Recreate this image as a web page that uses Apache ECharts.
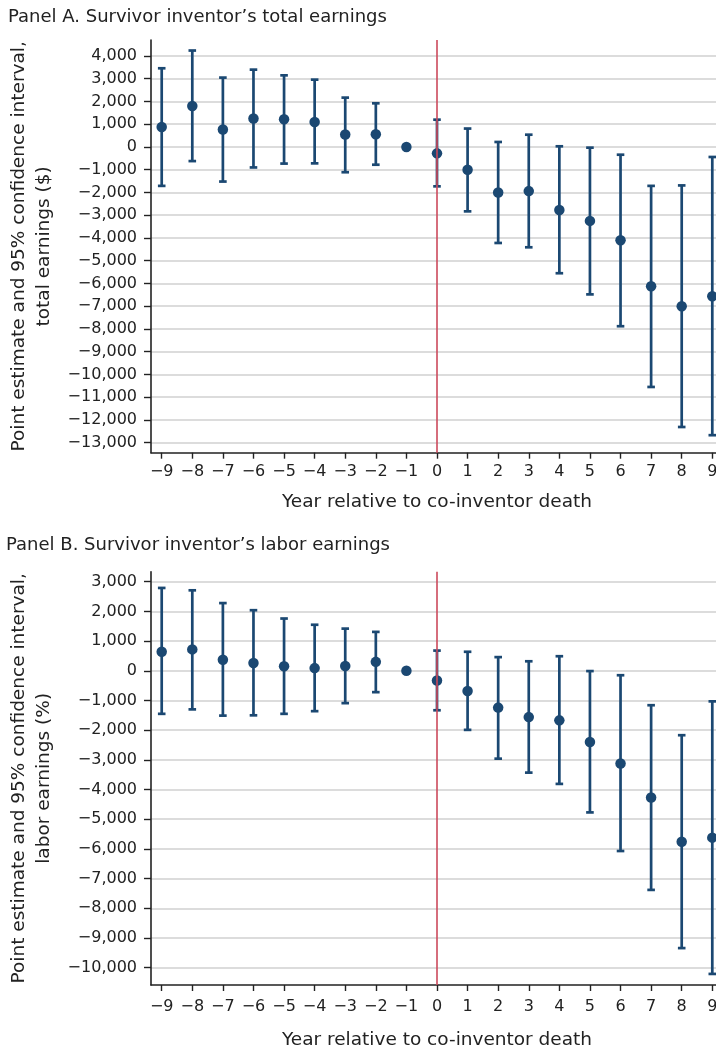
<!DOCTYPE html>
<html>
<head>
<meta charset="utf-8">
<script src="https://cdn.jsdelivr.net/npm/echarts@6/dist/echarts.min.js"></script>
<style>
  html, body { margin: 0; padding: 0; background: #fff; }
  #chart { width: 716px; height: 1050px; }
</style>
</head>
<body>
<div id="chart"></div>
<script>
// ---- data ----
const years = [-9, -8, -7, -6, -5, -4, -3, -2, -1, 0, 1, 2, 3, 4, 5, 6, 7, 8, 9];

// Panel A: total earnings ($)
const estA  = [880, 1800, 770, 1250, 1220, 1100, 550, 560, 0, -280, -1000, -2000, -1940, -2770, -3250, -4100, -6120, -7000, -6560];
const lowA  = [-1710, -620, -1520, -900, -730, -720, -1110, -780, null, -1730, -2830, -4220, -4410, -5550, -6480, -7880, -10550, -12310, -12670];
const highA = [3460, 4240, 3050, 3400, 3150, 2960, 2170, 1920, null, 1200, 810, 220, 540, 30, -30, -340, -1710, -1690, -440];

// Panel B: labor earnings
const estB  = [640, 720, 370, 260, 150, 90, 160, 300, 0, -330, -680, -1240, -1560, -1670, -2400, -3120, -4270, -5760, -5620];
const lowB  = [-1450, -1300, -1510, -1500, -1450, -1360, -1090, -720, null, -1330, -1990, -2960, -3430, -3810, -4770, -6070, -7380, -9340, -10210];
const highB = [2790, 2710, 2280, 2040, 1760, 1550, 1420, 1310, null, 680, 640, 460, 320, 490, -10, -150, -1160, -2170, -1030];

const xTicks  = [-9, -8, -7, -6, -5, -4, -3, -2, -1, 0, 1, 2, 3, 4, 5, 6, 7, 8, 9];
const yTicksA = [-13000, -12000, -11000, -10000, -9000, -8000, -7000, -6000, -5000, -4000, -3000, -2000, -1000, 0, 1000, 2000, 3000, 4000];
const yTicksB = [-10000, -9000, -8000, -7000, -6000, -5000, -4000, -3000, -2000, -1000, 0, 1000, 2000, 3000];

const titleA = 'Panel A. Survivor inventor\u2019s total earnings';
const titleB = 'Panel B. Survivor inventor\u2019s labor earnings';
const yNameA = 'Point estimate and 95% confidence interval,\ntotal earnings ($)';
const yNameB = 'Point estimate and 95% confidence interval,\nlabor earnings (%)';
const xName  = 'Year relative to co-inventor death';

// ---- styling ----
const NAVY = '#1b4872';
const RED = '#cc4a5c';
const TXT = '#222222';
const FONT = 'DejaVu Sans';

function fmtNum(v) {
  const s = Math.abs(v).toLocaleString('en-US');
  return (v < 0 ? '\u2212' : '') + s;
}

function errData(lo, hi) {
  const out = [];
  years.forEach((y, i) => {
    if (lo[i] != null && hi[i] != null) out.push([y, lo[i], hi[i]]);
  });
  return out;
}
function ptData(est) {
  return years.map((y, i) => [y, est[i]]);
}

function renderErr(params, api) {
  const x = api.value(0), lo = api.value(1), hi = api.value(2);
  const a = api.coord([x, lo]);
  const b = api.coord([x, hi]);
  const cw = 3.8;
  const st = { stroke: NAVY, lineWidth: 2.7, fill: null };
  return {
    type: 'group',
    children: [
      { type: 'line', shape: { x1: a[0], y1: a[1], x2: b[0], y2: b[1] }, style: st },
      { type: 'line', shape: { x1: a[0] - cw, y1: a[1], x2: a[0] + cw, y2: a[1] }, style: st },
      { type: 'line', shape: { x1: b[0] - cw, y1: b[1], x2: b[0] + cw, y2: b[1] }, style: st }
    ]
  };
}

function xAxisCfg(gridIndex, labelMargin, nameGap) {
  return {
    type: 'value', gridIndex,
    min: -9.35, max: 9.35,
    name: xName, nameLocation: 'middle', nameGap,
    nameTextStyle: { fontFamily: FONT, fontSize: 18.5, color: TXT },
    axisLine: { show: true, onZero: false, lineStyle: { color: TXT, width: 1.6 } },
    axisTick: { show: true, length: 6, customValues: xTicks, lineStyle: { color: TXT, width: 1.4 } },
    axisLabel: { customValues: xTicks, margin: labelMargin, fontFamily: FONT, fontSize: 16, color: TXT, formatter: fmtNum },
    splitLine: { show: false }
  };
}
function yAxisCfg(gridIndex, min, max, ticks, name) {
  return {
    type: 'value', gridIndex, min, max,
    name, nameLocation: 'middle', nameRotate: 90, nameGap: 91,
    nameTextStyle: { fontFamily: FONT, fontSize: 18.5, color: TXT, lineHeight: 25, align: 'center' },
    axisLine: { show: true, onZero: false, lineStyle: { color: TXT, width: 1.6 } },
    axisTick: { show: true, length: 7, customValues: ticks, lineStyle: { color: TXT, width: 1.4 } },
    axisLabel: { customValues: ticks, margin: 14, fontFamily: FONT, fontSize: 16, color: TXT, formatter: fmtNum },
    splitLine: { show: true, lineStyle: { color: '#d0d0d0', width: 1.5 } }
  };
}

function panelSeries(idx, est, lo, hi) {
  return [
    {
      type: 'line', xAxisIndex: idx, yAxisIndex: idx, data: [], z: 1, silent: true,
      markLine: {
        silent: true, symbol: 'none', animation: false,
        label: { show: false },
        lineStyle: { color: RED, width: 1.6, type: 'solid' },
        data: [{ xAxis: 0 }]
      }
    },
    {
      type: 'custom', xAxisIndex: idx, yAxisIndex: idx, z: 3,
      renderItem: renderErr,
      encode: { x: 0, y: [1, 2] },
      data: errData(lo, hi)
    },
    {
      type: 'scatter', xAxisIndex: idx, yAxisIndex: idx, z: 4,
      symbol: 'circle', symbolSize: 10.5,
      itemStyle: { color: NAVY, opacity: 1 },
      data: ptData(est)
    }
  ];
}

const chart = echarts.init(document.getElementById('chart'));
chart.setOption({
  animation: false,
  backgroundColor: '#ffffff',
  title: [
    { text: titleA, left: 8, top: 8, padding: 0, textStyle: { fontFamily: FONT, fontSize: 18, fontWeight: 'normal', color: TXT } },
    { text: titleB, left: 6, top: 536, padding: 0, textStyle: { fontFamily: FONT, fontSize: 18, fontWeight: 'normal', color: TXT } }
  ],
  grid: [
    { left: 151, width: 572, top: 40, height: 412.7, containLabel: false, outerBoundsMode: 'none' },
    { left: 151, width: 572, top: 571.7, height: 413.3, containLabel: false, outerBoundsMode: 'none' }
  ],
  xAxis: [xAxisCfg(0, 11, 40), xAxisCfg(1, 14, 46)],
  yAxis: [
    yAxisCfg(0, -13440, 4703, yTicksA, yNameA),
    yAxisCfg(1, -10583, 3337, yTicksB, yNameB)
  ],
  series: [].concat(panelSeries(0, estA, lowA, highA), panelSeries(1, estB, lowB, highB))
});
</script>
</body>
</html>
